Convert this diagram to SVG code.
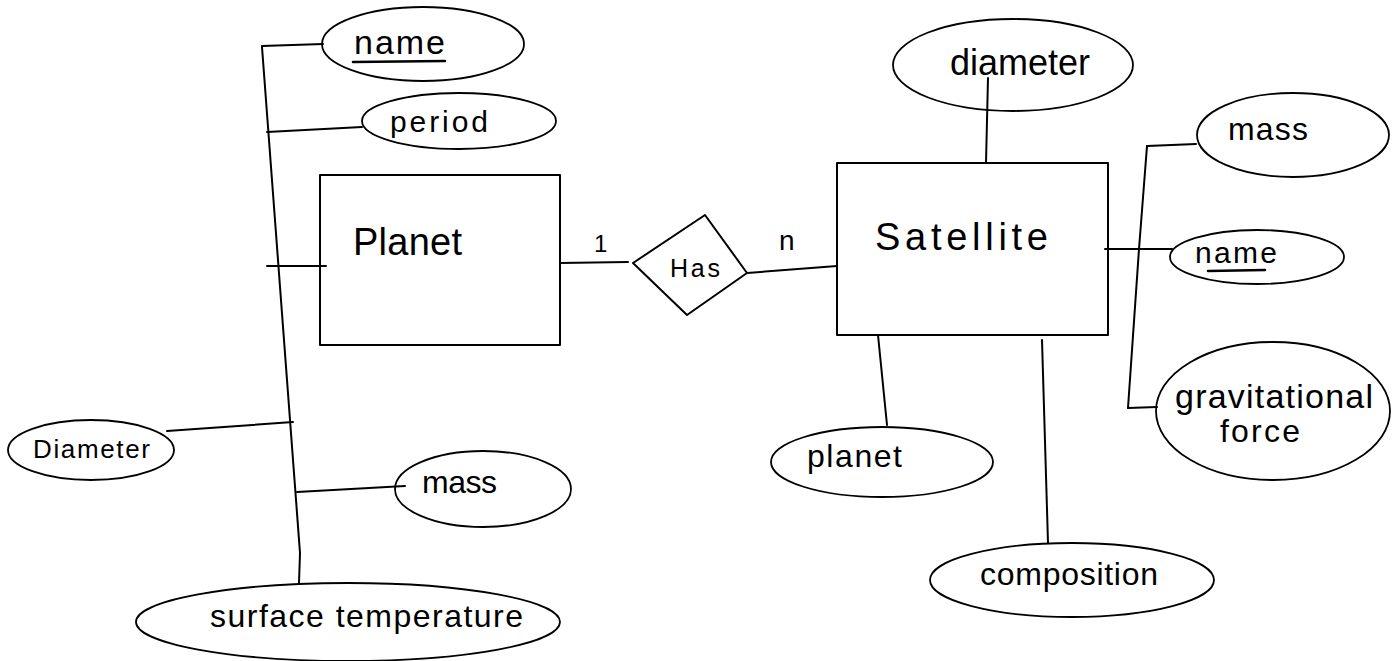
<svg xmlns="http://www.w3.org/2000/svg" width="1396" height="661" viewBox="0 0 1396 661">
  <style>
    .shape { fill: none; stroke: #000; stroke-width: 2; stroke-linejoin: round; }
    .attr { fill: none; stroke: #000; stroke-width: 1.8; }
    .conn { fill: none; stroke: #000; stroke-width: 2; stroke-linecap: round; stroke-linejoin: round; }
    .ul { stroke: #000; stroke-width: 2.5; stroke-linecap: round; }
    text { font-family: "Liberation Sans", Arial, sans-serif; fill: #000; }
  </style>
  <rect width="1396" height="661" fill="#fff"/>

  <g id="connectors">
    <polyline class="conn" points="262,47 287,380 300,553 299,583"/>
    <line class="conn" x1="262" y1="46" x2="323" y2="44"/>
    <line class="conn" x1="267" y1="132" x2="362" y2="127"/>
    <line class="conn" x1="267" y1="266" x2="326" y2="266"/>
    <line class="conn" x1="167" y1="431" x2="293" y2="422"/>
    <line class="conn" x1="297" y1="492" x2="405" y2="486"/>
    <line class="conn" x1="560" y1="263" x2="628" y2="262"/>
    <line class="conn" x1="747" y1="273" x2="837" y2="266"/>
    <line class="conn" x1="988" y1="78" x2="986" y2="163"/>
    <polyline class="conn" points="1147,146 1139,249 1128,408"/>
    <line class="conn" x1="1147" y1="146" x2="1196" y2="144"/>
    <line class="conn" x1="1105" y1="249" x2="1172" y2="249"/>
    <line class="conn" x1="1128" y1="408" x2="1157" y2="407"/>
    <line class="conn" x1="878" y1="335" x2="887" y2="425"/>
    <line class="conn" x1="1042" y1="340" x2="1048" y2="543"/>
  </g>

  <g id="planet">
    <rect class="shape" x="320" y="175" width="240" height="170"/>
    <text x="353" y="255" font-size="38" textLength="109" lengthAdjust="spacing">Planet</text>
  </g>

  <g id="has">
    <polygon class="shape" points="633,263 705,215 747,273 687,315"/>
    <text x="670" y="277" font-size="25" textLength="50" lengthAdjust="spacing">Has</text>
    <text x="594" y="252" font-size="24">1</text>
    <text x="779" y="250" font-size="28">n</text>
  </g>

  <g id="satellite">
    <rect class="shape" x="837" y="163" width="271" height="172"/>
    <text x="875" y="250" font-size="38" textLength="173" lengthAdjust="spacing">Satellite</text>
  </g>

  <g id="p-name">
    <ellipse class="attr" cx="423" cy="44" rx="101" ry="37"/>
    <text x="354" y="54" font-size="34" textLength="91" lengthAdjust="spacing">name</text>
    <line class="ul" x1="353" y1="62" x2="445" y2="61"/>
  </g>
  <g id="p-period">
    <ellipse class="attr" cx="459" cy="121" rx="97" ry="28"/>
    <text x="390" y="132" font-size="30" textLength="98" lengthAdjust="spacing">period</text>
  </g>
  <g id="p-diameter">
    <ellipse class="attr" cx="91" cy="450" rx="83" ry="30"/>
    <text x="33" y="458" font-size="26" textLength="117" lengthAdjust="spacing">Diameter</text>
  </g>
  <g id="p-mass">
    <ellipse class="attr" cx="483" cy="489" rx="88" ry="38"/>
    <text x="422" y="493" font-size="32" textLength="75" lengthAdjust="spacing">mass</text>
  </g>
  <g id="p-surface">
    <ellipse class="attr" cx="348" cy="622" rx="212" ry="39"/>
    <text x="210" y="627" font-size="32" textLength="313" lengthAdjust="spacing">surface temperature</text>
  </g>

  <g id="s-diameter">
    <ellipse class="attr" cx="1013" cy="65" rx="120" ry="46"/>
    <text x="950" y="75" font-size="36" textLength="140" lengthAdjust="spacing">diameter</text>
  </g>
  <g id="s-mass">
    <ellipse class="attr" cx="1293" cy="135" rx="96" ry="42"/>
    <text x="1228" y="140" font-size="32" textLength="80" lengthAdjust="spacing">mass</text>
  </g>
  <g id="s-name">
    <ellipse class="attr" cx="1257" cy="257" rx="87" ry="27"/>
    <text x="1195" y="263" font-size="30" textLength="82" lengthAdjust="spacing">name</text>
    <line class="ul" x1="1208" y1="271" x2="1265" y2="270"/>
  </g>
  <g id="s-grav">
    <ellipse class="attr" cx="1273" cy="411" rx="117" ry="69"/>
    <text x="1175" y="408" font-size="34" textLength="198" lengthAdjust="spacing">gravitational</text>
    <text x="1220" y="442" font-size="32" textLength="80" lengthAdjust="spacing">force</text>
  </g>
  <g id="s-planet">
    <ellipse class="attr" cx="882" cy="462" rx="111" ry="35"/>
    <text x="807" y="467" font-size="32" textLength="95" lengthAdjust="spacing">planet</text>
  </g>
  <g id="s-composition">
    <ellipse class="attr" cx="1072" cy="580" rx="142" ry="37"/>
    <text x="980" y="585" font-size="32" textLength="178" lengthAdjust="spacing">composition</text>
  </g>
</svg>
